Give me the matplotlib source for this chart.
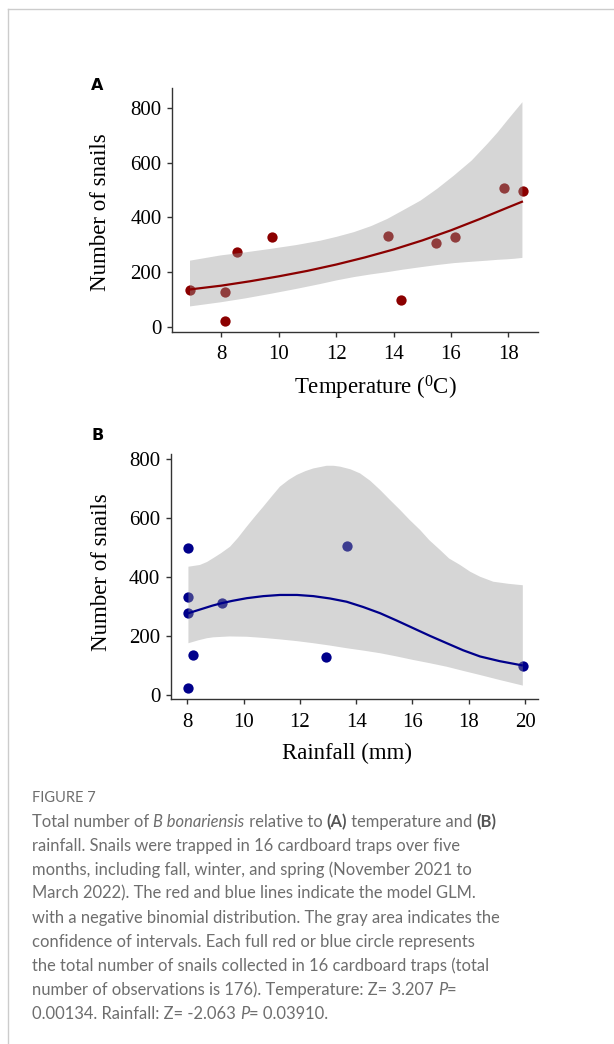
import numpy as np
import matplotlib
matplotlib.use("Agg")
import matplotlib.pyplot as plt
from matplotlib.lines import Line2D

# ---- data ----
# panel A: temperature
temp_x = [6.89, 8.13, 8.13, 8.54, 9.78, 13.82, 14.25, 15.48, 16.15, 17.85, 18.50]
temp_y = [135, 129, 22, 275, 330, 332, 98, 308, 330, 506, 497]
temp_fit_x = [6.89, 8, 9, 10, 11, 12, 13, 14, 15, 16, 17, 18, 18.47]
temp_fit_y = [137, 151, 167, 185, 205, 228, 254, 283, 316, 353, 394, 437, 457]
temp_band_x = [6.89, 7.95, 8.8, 9.70, 10.6, 11.44, 12.0, 12.60, 13.2, 13.76, 14.3, 14.92,
               15.5, 16.08, 16.7, 17.25, 17.6, 17.94, 18.2, 18.47]
temp_lo = [77, 92, 106, 123, 141, 159, 172, 184, 194, 202, 211, 220,
           228, 235, 240, 244, 247, 249, 251, 254]
temp_hi = [244, 263, 274, 287, 301, 317, 331, 348, 370, 396, 427, 463,
           506, 554, 609, 670, 711, 755, 788, 822]

# panel B: rainfall
rain_x = [8.04, 8.04, 8.04, 8.21, 8.04, 9.23, 12.93, 13.69, 19.92]
rain_y = [498, 331, 277, 135, 22, 311, 129, 505, 99]
rain_fit_x = [8.04, 8.3, 8.6, 8.9, 9.22, 9.6, 10.11, 10.7, 11.29, 11.9, 12.48, 13.07, 13.66,
              14.25, 14.85, 15.44, 16.03, 16.62, 17.22, 17.8, 18.40, 19.1, 19.88]
rain_fit_y = [277, 285, 294, 303, 311, 319, 328, 335, 339, 339, 335, 327, 316,
              298, 277, 252, 226, 200, 175, 151, 130, 114, 100]
rain_up_x = [8.04, 8.25, 8.45, 8.7, 8.92, 9.2, 9.52, 9.8, 10.11, 10.4, 10.70, 11.0, 11.29,
             11.6, 11.89, 12.2, 12.48, 12.95, 13.2, 13.43, 13.8, 14.14, 14.5, 14.85, 15.2,
             15.56, 15.9, 16.27, 16.6, 16.98, 17.3, 17.69, 18.05, 18.40, 18.87, 19.4, 19.92]
rain_hi = [435, 438, 441, 451, 464, 481, 503, 533, 571, 605, 639, 674, 707,
           730, 747, 760, 769, 778, 778, 775, 766, 752, 727, 696, 662,
           628, 594, 560, 525, 492, 463, 441, 418, 401, 384, 377, 372]
rain_lo_x = [8.04, 8.4, 8.7, 8.92, 9.5, 10.11, 10.7, 11.29, 11.9, 12.48, 13.07, 13.66,
             14.25, 14.85, 15.44, 16.03, 16.62, 17.22, 17.8, 18.40, 19.1, 19.92]
rain_lo = [175, 185, 192, 195, 198, 197, 193, 188, 182, 175, 167, 158,
           150, 141, 130, 118, 107, 95, 81, 67, 50, 31]

yticks = [0, 200, 400, 600, 800]
temp_xticks = [8, 10, 12, 14, 16, 18]
rain_xticks = [8, 10, 12, 14, 16, 18, 20]

RED = "#8B0000"
BLUE = "#00008B"

plt.rcParams["mathtext.fontset"] = "custom"
plt.rcParams["mathtext.rm"] = "Liberation Serif"
plt.rcParams["mathtext.it"] = "Liberation Serif:italic"

W, H = 614, 1044
fig = plt.figure(figsize=(W / 100, H / 100), dpi=100)


def px_axes(left, top, right, bottom):
    return fig.add_axes([left / W, 1 - bottom / H, (right - left) / W, (bottom - top) / H])


def style_axes(ax):
    for s in ["top", "right"]:
        ax.spines[s].set_visible(False)
    for s in ["left", "bottom"]:
        ax.spines[s].set_color("#333333")
        ax.spines[s].set_linewidth(1.0)
    ax.tick_params(length=3.6, width=1.0, color="#333333",
                   labelsize=15, labelcolor="black")
    ax.tick_params(axis="x", pad=6)
    ax.tick_params(axis="y", pad=4)
    for lab in ax.get_xticklabels() + ax.get_yticklabels():
        lab.set_fontfamily("Liberation Serif")
    ax.set_yticks(yticks)
    ax.set_yticklabels([str(v) for v in yticks], fontfamily="Liberation Serif")


def band_polygon(ax, ux, uy, lx, ly):
    xs = list(ux) + list(lx[::-1])
    ys = list(uy) + list(ly[::-1])
    ax.fill(xs, ys, color="#999999", alpha=0.4, lw=0, zorder=3)


# ---- panel A ----
axA = px_axes(172, 88, 538, 331.7)
axA.scatter(temp_x, temp_y, s=55, color=RED, lw=0, zorder=2)
axA.fill_between(temp_band_x, temp_lo, temp_hi, color="#999999", alpha=0.4, lw=0, zorder=3)
axA.plot(temp_fit_x, temp_fit_y, color=RED, lw=1.6, zorder=4)
axA.set_xlim(6.28, 19.03)
axA.set_ylim(-17, 872)
axA.set_xticks(temp_xticks)
axA.set_xticklabels([str(v) for v in temp_xticks])
style_axes(axA)
axA.set_ylabel("Number of snails", fontfamily="Liberation Serif", fontsize=16.5)
axA.yaxis.set_label_coords((101 - 172) / 366, 0.5 - (211.7 - 209.8) / 243.7)
axA.set_xlabel("Temperature ($^{0}$C)", fontfamily="Liberation Serif", fontsize=16.5)
axA.xaxis.set_label_coords((375 - 172) / 366, -(388 - 331.7) / 243.7)
axA.xaxis.label.set_va("center")
axA.yaxis.label.set_va("center")

# ---- panel B ----
axB = px_axes(170.7, 454.3, 538.3, 699.3)
axB.scatter(rain_x, rain_y, s=55, color=BLUE, lw=0, zorder=2)
band_polygon(axB, rain_up_x, rain_hi, rain_lo_x, rain_lo)
axB.plot(rain_fit_x, rain_fit_y, color=BLUE, lw=1.6, zorder=4)
axB.set_xlim(7.41, 20.47)
axB.set_ylim(-15.6, 817)
axB.set_xticks(rain_xticks)
axB.set_xticklabels([str(v) for v in rain_xticks])
style_axes(axB)
axB.set_ylabel("Number of snails", fontfamily="Liberation Serif", fontsize=16.5)
axB.yaxis.set_label_coords((101 - 170.7) / 367.6, 0.5 - (572 - 576.8) / 245)
axB.set_xlabel("Rainfall (mm)", fontfamily="Liberation Serif", fontsize=16.5)
axB.xaxis.set_label_coords((346.7 - 170.7) / 367.6, -(753 - 699.3) / 245)
axB.xaxis.label.set_va("center")
axB.yaxis.label.set_va("center")

# panel letters
fig.text(97 / W, 1 - 86 / H, "A", fontfamily="DejaVu Sans", fontweight="bold",
         fontsize=11.5, ha="center", va="center")
fig.text(98 / W, 1 - 435 / H, "B", fontfamily="DejaVu Sans", fontweight="bold",
         fontsize=11.5, ha="center", va="center")

# page frame lines
fig.add_artist(Line2D([7.5 / W, 7.5 / W], [0, 1 - 9 / H], color="#cccccc", lw=1))
fig.add_artist(Line2D([7.5 / W, 1], [1 - 9 / H, 1 - 9 / H], color="#cccccc", lw=1))

# ---- caption ----
CAP = "#6e6e6e"
fig.text(32 / W, 1 - 798 / H, "FIGURE 7", fontfamily="Lato", fontsize=10.5,
         color=CAP, va="center", ha="left")

caption = [
    [("Total number of ", "n"), ("B bonariensis", "i"), (" relative to ", "n"),
     ("(A)", "b"), (" temperature and ", "n"), ("(B)", "b")],
    [("rainfall. Snails were trapped in 16 cardboard traps over five", "n")],
    [("months, including fall, winter, and spring (November 2021 to", "n")],
    [("March 2022). The red and blue lines indicate the model GLM.", "n")],
    [("with a negative binomial distribution. The gray area indicates the", "n")],
    [("confidence of intervals. Each full red or blue circle represents", "n")],
    [("the total number of snails collected in 16 cardboard traps (total", "n")],
    [("number of observations is 176). Temperature: Z= 3.207 ", "n"), ("P", "i"), ("=", "n")],
    [("0.00134. Rainfall: Z= -2.063 ", "n"), ("P", "i"), ("= 0.03910.", "n")],
]

fig.canvas.draw()
renderer = fig.canvas.get_renderer()
y0 = 821.7
for i, line in enumerate(caption):
    x = 32.0
    y = 1 - (y0 + 24 * i) / H
    for txt, st in line:
        kw = dict(fontfamily="Lato", fontsize=11.9, color=CAP, va="center", ha="left")
        if st == "i":
            kw["fontstyle"] = "italic"
        if st == "b":
            kw["fontweight"] = "bold"
            kw["color"] = "#555555"
        t = fig.text(x / W, y, txt, **kw)
        bb = t.get_window_extent(renderer=renderer)
        x += bb.width

fig.savefig("out.png", dpi=100)
